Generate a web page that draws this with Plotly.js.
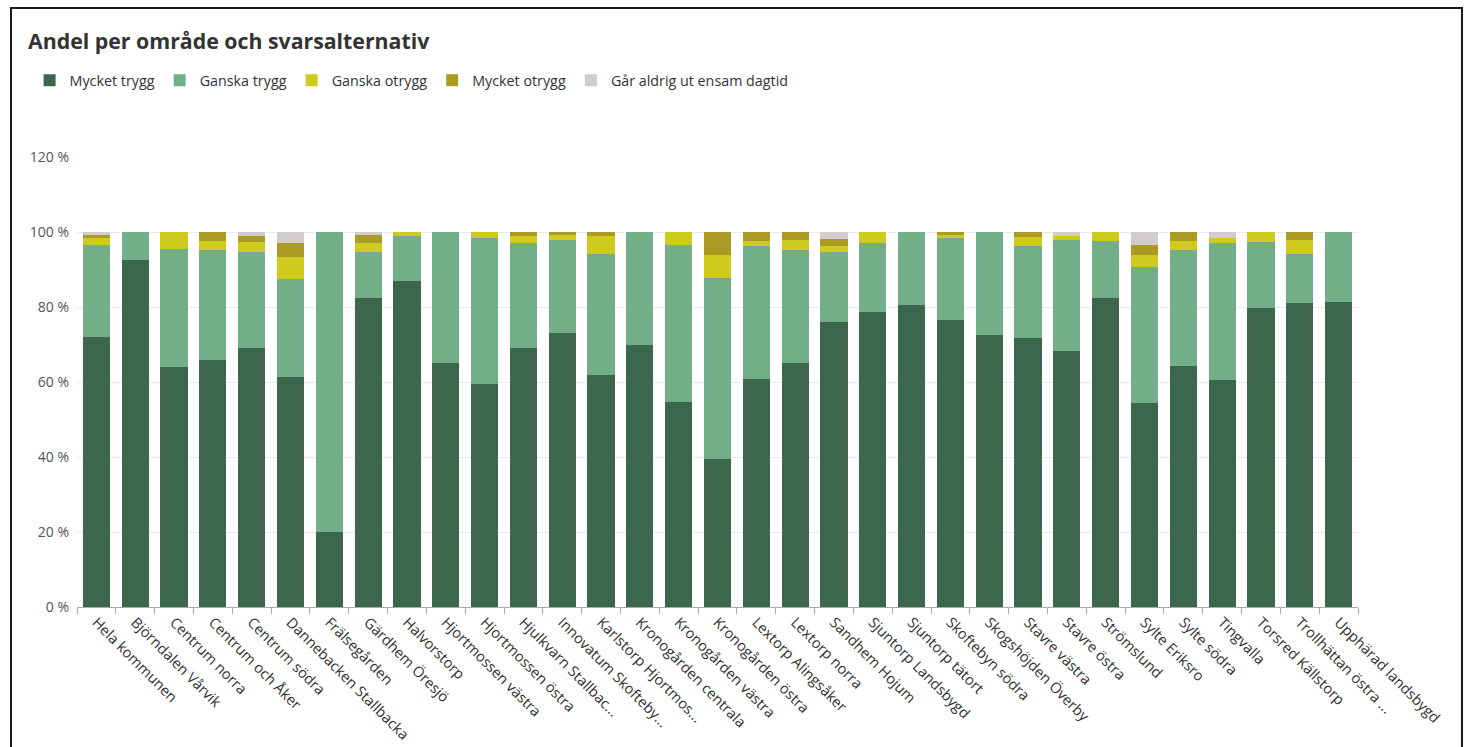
<!DOCTYPE html>
<html><head><meta charset="utf-8">
<script src="https://cdn.plot.ly/plotly-3.0.1.min.js"></script>
<style>
html,body{margin:0;padding:0;background:#fff;width:1467px;height:747px;overflow:hidden;}
#frame{position:absolute;left:10px;top:7px;width:1453px;height:760px;border:2px solid #1a1a1a;box-sizing:border-box;}
#chart{position:absolute;left:0;top:0;width:1467px;height:747px;}
</style></head>
<body>
<div id="frame"></div>
<div id="chart"></div>
<script>
const categories = ["Hela kommunen","Björndalen Vårvik","Centrum norra","Centrum och Åker","Centrum södra","Dannebacken Stallbacka","Frälsegården","Gärdhem Öresjö","Halvorstorp","Hjortmossen västra","Hjortmossen östra","Hjulkvarn Stallbac...","Innovatum Skofteby...","Karlstorp Hjortmos...","Kronogården centrala","Kronogården västra","Kronogården östra","Lextorp Alingsåker","Lextorp norra","Sandhem Hojum","Sjuntorp Landsbygd","Sjuntorp tätort","Skoftebyn södra","Skogshöjden Överby","Stavre västra","Stavre östra","Strömslund","Sylte Eriksro","Sylte södra","Tingvalla","Torsred Källstorp","Trollhättan östra ...","Upphärad landsbygd"];
const mycketTrygg  = [72,92.5,64,66,69,61.3,20,82.4,87,65,59.5,69,73,61.9,70,54.7,39.5,60.8,65,76,78.7,80.5,76.5,72.5,71.7,68.3,82.4,54.5,64.3,60.5,79.7,81,81.3];
const ganskaTrygg  = [24.5,7.5,31.5,29.2,25.7,26.3,80,12.4,11.9,35,38.9,28,25,32.2,30,41.8,48.2,35.6,30.3,18.7,18.5,19.5,22,27.5,24.7,29.7,15.3,36.3,30.8,36.7,17.7,13.1,18.7];
const ganskaOtrygg = [2,0,4.5,2.5,2.6,5.7,0,2.3,1.1,0,1.6,1.9,1.2,4.8,0,3.5,6.3,1.1,2.6,1.7,2.8,0,0.7,0,2.4,0.9,2.3,3,2.6,1.3,2.6,3.9,0];
const mycketOtrygg = [0.8,0,0,2.3,1.6,3.7,0,2.1,0,0,0,1.1,0.8,1.1,0,0,6,2.5,2.1,1.7,0,0,0.8,0,1.2,0,0,2.8,2.3,0,0,2,0];
const garAldrig    = [0.7,0,0,0,1.1,3,0,0.8,0,0,0,0,0,0,0,0,0,0,0,1.9,0,0,0,0,0,1.1,0,3.4,0,1.5,0,0,0];
const seriesNames = ["Mycket trygg","Ganska trygg","Ganska otrygg","Mycket otrygg","Går aldrig ut ensam dagtid"];
const seriesColors = ["#3d674c","#72af88","#ceca1e","#aa9c22","#d2cccc"];
const seriesValues = [mycketTrygg, ganskaTrygg, ganskaOtrygg, mycketOtrygg, garAldrig];

const traces = seriesNames.map((n,i)=>({
  type:'bar', name:n, x:categories, y:seriesValues[i],
  marker:{color:seriesColors[i], line:{width:0}},
  hovertemplate:'%{x}<br>'+n+': %{y} %<extra></extra>'
}));

const layout = {
  width:1467, height:747,
  paper_bgcolor:'rgba(0,0,0,0)', plot_bgcolor:'rgba(0,0,0,0)',
  barmode:'stack', bargap:0.3,
  margin:{l:77,r:109,t:157,b:140},
  font:{family:'"Open Sans", "Noto Sans", sans-serif', color:'#444'},
  title:{text:'<b>Andel per område och svarsalternativ</b>', x:0, xref:'paper', xanchor:'left', y:0.944, yanchor:'middle', pad:{l:-49},
         font:{size:21.3, color:'#333', family:'"Open Sans", "Noto Sans", sans-serif'}},
  showlegend:true,
  legend:{orientation:'h', x:-0.037, xanchor:'left', y:1.17, yanchor:'middle',
          font:{size:14.3, color:'#333'}, traceorder:'normal', itemwidth:30},
  xaxis:{type:'category', tickangle:45, showline:true, linecolor:'#aaa', linewidth:1,
         ticks:'outside', tickson:'boundaries', ticklen:6, tickcolor:'#aaa',
         tickfont:{size:14.6, color:'#333'}, showgrid:false},
  yaxis:{range:[0,120], dtick:20, ticksuffix:' %', gridcolor:'#e6e9f0', gridwidth:1,
         tickfont:{size:14, color:'#555'}, ticklabelstandoff:7, zeroline:false, showline:false, automargin:false}
};
Plotly.newPlot('chart', traces, layout, {displayModeBar:false});
</script>
</body></html>
